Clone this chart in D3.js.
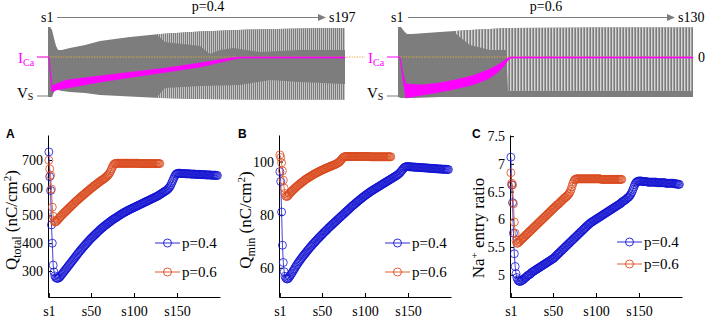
<!DOCTYPE html>
<html><head><meta charset="utf-8">
<script src="https://cdn.jsdelivr.net/npm/d3@7"></script>
<style>
body{margin:0;background:#fff}
svg{display:block}
text{font-family:"Liberation Serif","Times New Roman",serif;fill:#000}
</style>
</head><body>
<svg id="c" width="708" height="320" font-family="Liberation Serif, Times New Roman, serif"></svg>
<script>
// ---------------- DATA ----------------
// Top traces (time as % of run); V in mV-like units, I_Ca normalised
const envT_p04 = [0, 0.7, 1.35, 2.0, 2.7, 3.4, 4.7, 7.4, 12.5, 17.5, 27.6, 37.7, 51.2, 68, 84.8, 100];
const vTop_p04 = [45, 45, 39.7, 25.4, 11.2, 4.0, 4.0, 7.6, 12.9, 20.1, 27.2, 32.5, 37.0, 40.5, 42.3, 43.2];
const vBot_p04 = [-79.7, -79.7, -79.7, -70.8, -67.2, -67.2, -69.0, -70.8, -72.5, -76.1, -78.8, -81.4, -83.2, -84.1, -84.1, -84.1];
const icaT_p04 = [0, 0.34, 1.35, 2.7, 6.4, 17.5, 28.6, 40, 51.2, 61.3, 64.6, 100];
const icaHi_p04 = [0, 0, -0.725, -0.675, -0.575, -0.475, -0.375, -0.275, -0.15, -0.025, 0, 0];
const icaLo_p04 = [0, -0.025, -0.875, -0.825, -0.775, -0.625, -0.5, -0.375, -0.25, -0.075, -0.025, -0.025];
const gapUpT_p04 = [36.0, 39.4, 51.2, 54.5, 57.9, 62.3, 71.4, 84.8, 100];
const gapUpV_p04 = [34.3, 18.3, 11.2, -3.1, 4.0, 7.6, 0.5, 4.0, 4.0];
const gapLoT_p04 = [36.0, 39.4, 51.2, 64.6, 74.7, 84.8, 100];
const gapLoV_p04 = [-83.2, -63.6, -60.1, -58.3, -49.4, -52.9, -56.5];

const envT_p06 = [0, 1.0, 2.0, 3.05, 4.7, 14.2, 24.4, 37.3, 68.5, 100];
const vTop_p06 = [45, 45, 37.9, 32.5, 32.5, 36.1, 39.7, 43.2, 44.1, 44.1];
const vBot_p06 = [-79.7, -81.4, -81.4, -81.4, -81.4, -79.7, -79.7, -79.7, -79.7, -79.7];
const icaT_p06 = [0, 0.68, 1.7, 2.7, 8.1, 14.2, 19.3, 25.1, 30.5, 33.9, 35.9, 37.3, 38.3, 100];
const icaHi_p06 = [0, 0, -0.425, -0.675, -0.7, -0.65, -0.575, -0.475, -0.325, -0.2, -0.1, -0.025, 0, 0];
const icaLo_p06 = [0, -0.025, -0.575, -1.025, -0.95, -0.875, -0.8, -0.7, -0.55, -0.375, -0.225, -0.075, -0.025, -0.025];
const gapUpT_p06 = [19.3, 24.4, 31.2, 36.6, 37.3, 100];
const gapUpV_p06 = [34.3, 12.9, 4.0, 4.0, -69.0, -69.0];

// Bottom panels (per spike s1..)
const qTotalP04 = [
729,640,590,466,400,321,296,282,276,274,
273,274,276,279,283,287,291,295,299,303,
307,311,315,319,323,327,331,335,339,343,
347,351,355,359,363,367,371,375,378,382,
386,389,393,396,400,403,407,410,414,417,
420,423,426,429,432,435,438,441,444,447,
450,452,455,458,460,463,465,468,470,472,
475,477,479,482,484,486,488,490,492,494,
496,498,500,502,504,506,508,510,511,513,
515,516,518,520,521,523,524,526,527,529,
530,532,533,535,536,538,539,541,542,544,
545,547,548,550,551,553,554,556,557,559,
560,562,563,565,566,568,569,571,573,575,
577,579,581,583,585,587,589,591,594,597,
600,605,611,618,625,632,639,645,649,651,
652,652,652,652,651,651,651,651,651,650,
650,650,650,650,650,649,649,649,649,649,
649,648,648,648,648,648,648,647,647,647,
647,647,647,646,646,646,646,646,646,645,
645,645,645,645,645,644,644];
const qTotalP06 = [
699,668,645,595,530,497,481,476,477,480,
483,487,490,494,497,500,504,507,510,513,
516,519,522,525,528,531,534,537,540,543,
546,549,552,555,557,560,563,566,568,571,
574,576,579,582,584,587,589,592,595,597,
600,602,605,607,609,612,614,617,619,621,
624,626,628,630,632,635,637,640,643,646,
650,655,661,668,675,681,685,687,688,688,
688,688,688,688,688,688,688,688,688,688,
688,688,688,688,688,688,688,688,688,688,
688,688,688,688,688,687,687,687,687,687,
687,687,687,687,687,687,687,687,687,687,
687,687,687,687,687,687,687,687,687,687];
const qMinP04 = [
96.2,92.5,81.0,68.5,62.0,58.5,56.8,56.1,55.8,55.8,
56.1,56.5,57.0,57.5,58.0,58.6,59.1,59.6,60.2,60.7,
61.2,61.7,62.2,62.6,63.1,63.5,64.0,64.4,64.8,65.2,
65.6,66.0,66.4,66.8,67.2,67.6,68.0,68.3,68.7,69.1,
69.4,69.8,70.1,70.5,70.8,71.2,71.5,71.8,72.2,72.5,
72.8,73.2,73.5,73.8,74.1,74.4,74.8,75.1,75.4,75.7,
76.0,76.3,76.6,76.9,77.2,77.5,77.8,78.1,78.4,78.7,
79.0,79.3,79.6,79.9,80.2,80.5,80.8,81.1,81.4,81.7,
82.0,82.3,82.6,82.9,83.2,83.5,83.7,84.0,84.3,84.6,
84.8,85.1,85.4,85.6,85.9,86.2,86.4,86.7,86.9,87.2,
87.4,87.6,87.9,88.1,88.3,88.6,88.8,89.0,89.2,89.4,
89.6,89.8,90.0,90.2,90.4,90.6,90.8,91.0,91.2,91.4,
91.6,91.8,92.0,92.2,92.4,92.6,92.8,93.0,93.2,93.4,
93.6,93.8,94.0,94.2,94.4,94.6,94.8,95.0,95.3,95.6,
95.9,96.3,96.7,97.1,97.5,97.8,98.0,98.1,98.1,98.1,
98.1,98.0,98.0,98.0,98.0,97.9,97.9,97.9,97.9,97.8,
97.8,97.8,97.8,97.8,97.7,97.7,97.7,97.7,97.6,97.6,
97.6,97.6,97.5,97.5,97.5,97.5,97.4,97.4,97.4,97.4,
97.3,97.3,97.3,97.3,97.2,97.2,97.2,97.2,97.2,97.1,
97.1,97.1,97.1,97.1,97.1,97.0,97.0];
const qMinP06 = [
102.5,101.5,99.5,96.5,93.0,90.0,88.0,87.0,86.8,87.0,
87.4,87.8,88.2,88.5,88.9,89.2,89.5,89.8,90.1,90.4,
90.7,91.0,91.2,91.5,91.8,92.0,92.3,92.5,92.8,93.0,
93.3,93.5,93.7,93.9,94.1,94.3,94.5,94.7,94.9,95.1,
95.3,95.5,95.6,95.8,96.0,96.1,96.3,96.5,96.6,96.8,
96.9,97.1,97.2,97.4,97.5,97.7,97.8,97.9,98.1,98.2,
98.3,98.5,98.6,98.7,98.9,99.0,99.2,99.4,99.6,99.8,
100.1,100.5,100.9,101.3,101.6,101.8,101.9,101.9,101.9,101.9,
101.9,101.9,101.9,101.9,101.9,101.9,101.9,101.9,101.9,101.9,
101.9,101.9,101.9,101.9,101.9,101.9,101.9,101.9,101.9,101.9,
101.9,101.9,101.9,101.9,101.9,101.8,101.8,101.8,101.8,101.8,
101.8,101.8,101.8,101.8,101.8,101.8,101.8,101.8,101.8,101.8,
101.8,101.8,101.8,101.8,101.8,101.8,101.8,101.8,101.8,101.8];
const naRatioP04 = [
7.12,6.62,6.30,5.75,5.38,5.15,5.02,4.95,4.91,4.89,
4.88,4.88,4.89,4.90,4.91,4.92,4.94,4.95,4.96,4.98,
4.99,5.00,5.01,5.02,5.04,5.05,5.06,5.07,5.08,5.09,
5.10,5.11,5.12,5.13,5.14,5.15,5.16,5.17,5.18,5.19,
5.20,5.21,5.22,5.23,5.24,5.25,5.26,5.27,5.28,5.29,
5.30,5.32,5.33,5.35,5.36,5.38,5.39,5.41,5.42,5.44,
5.45,5.47,5.48,5.50,5.51,5.53,5.54,5.56,5.57,5.59,
5.60,5.62,5.63,5.65,5.66,5.68,5.69,5.71,5.72,5.74,
5.75,5.77,5.78,5.80,5.81,5.83,5.84,5.86,5.87,5.89,
5.90,5.91,5.93,5.94,5.95,5.96,5.97,5.98,5.99,6.00,
6.01,6.02,6.03,6.04,6.05,6.06,6.07,6.08,6.09,6.10,
6.11,6.12,6.13,6.14,6.15,6.16,6.17,6.18,6.19,6.20,
6.21,6.22,6.23,6.24,6.25,6.26,6.27,6.28,6.29,6.31,
6.32,6.33,6.34,6.35,6.36,6.38,6.39,6.40,6.42,6.44,
6.47,6.50,6.54,6.58,6.62,6.65,6.67,6.68,6.69,6.69,
6.69,6.69,6.69,6.68,6.68,6.68,6.68,6.68,6.68,6.67,
6.67,6.67,6.67,6.67,6.67,6.67,6.67,6.67,6.67,6.67,
6.66,6.66,6.66,6.66,6.66,6.66,6.66,6.66,6.66,6.66,
6.65,6.65,6.65,6.65,6.65,6.65,6.65,6.65,6.65,6.65,
6.64,6.64,6.64,6.64,6.63,6.63,6.63];
const naRatioP06 = [
6.84,6.65,6.62,6.28,5.95,5.75,5.62,5.57,5.57,5.59,
5.60,5.62,5.63,5.65,5.66,5.68,5.69,5.71,5.72,5.74,
5.75,5.77,5.78,5.80,5.81,5.83,5.84,5.86,5.87,5.89,
5.90,5.92,5.93,5.95,5.96,5.98,5.99,6.01,6.02,6.04,
6.05,6.07,6.08,6.10,6.11,6.13,6.14,6.16,6.17,6.19,
6.20,6.22,6.23,6.25,6.26,6.27,6.29,6.30,6.32,6.33,
6.35,6.36,6.38,6.39,6.40,6.42,6.43,6.45,6.47,6.50,
6.54,6.59,6.64,6.68,6.71,6.72,6.73,6.73,6.73,6.73,
6.73,6.73,6.73,6.73,6.73,6.73,6.73,6.73,6.73,6.73,
6.73,6.73,6.73,6.73,6.73,6.73,6.73,6.73,6.73,6.73,
6.73,6.73,6.73,6.73,6.73,6.72,6.72,6.72,6.72,6.72,
6.72,6.72,6.72,6.72,6.72,6.72,6.72,6.72,6.72,6.72,
6.72,6.72,6.72,6.72,6.72,6.72,6.72,6.72,6.72,6.72];

const xTickVals = [1, 50, 100, 150];
const xTickLabels = ["s1", "s50", "s100", "s150"];
const yTicksA = [300, 400, 500, 600, 700];
const yTicksB = [60, 80, 100];
const yTicksC = [5, 5.5, 6, 6.5, 7, 7.5];
const seriesNames = ["p=0.4", "p=0.6"];

// ---------------- DRAW ----------------
const SERIF = '"Liberation Serif","Times New Roman",serif';
const GRAY = "#7d7d7d", LIGHT = "#d6d6d6", MAG = "#ff00ff", BLUE = "#1414d2", RED = "#d94a1e", DOT = "#e0a83a";
const svg = d3.select("#c");
const defs = svg.append("defs");

function stripePattern(id, w, lw) {
  const p = defs.append("pattern").attr("id", id).attr("patternUnits", "userSpaceOnUse")
    .attr("width", w).attr("height", 8);
  p.append("rect").attr("width", w).attr("height", 8).attr("fill", GRAY);
  p.append("rect").attr("width", lw).attr("height", 8).attr("fill", LIGHT);
}
stripePattern("stripeL", 2, 0.8);
stripePattern("stripeR", 3, 1.4);

const vY = d3.scaleLinear().domain([-85, 45]).range([100, 27]);
const iY = d3.scaleLinear().domain([-1, 0]).range([97, 57]);

function txt(sel, size) { return sel.style("font-family", SERIF).style("font-size", size + "px"); }

function drawTrace(o) {
  const x = d3.scaleLinear().domain([0, 100]).range(o.xr);
  const env = d3.area().x((d, i) => x(o.envT[i])).y0((d, i) => vY(o.vBot[i])).y1((d, i) => vY(o.vTop[i]));
  defs.append("clipPath").attr("id", o.id + "clip").append("path").attr("d", env(o.envT));
  svg.append("path").attr("d", env(o.envT)).attr("fill", GRAY);
  const g = svg.append("g").attr("clip-path", `url(#${o.id}clip)`);
  if (o.upT) g.append("path")
    .attr("d", d3.area().x((d, i) => x(o.upT[i])).y0(vY(50)).y1((d, i) => vY(o.upV[i]))(o.upT))
    .attr("fill", `url(#${o.pat})`);
  if (o.loT) g.append("path")
    .attr("d", d3.area().x((d, i) => x(o.loT[i])).y0((d, i) => vY(o.loV[i])).y1(vY(-90))(o.loT))
    .attr("fill", `url(#${o.pat})`);
  svg.append("line").attr("x1", o.dot[0]).attr("x2", o.dot[1]).attr("y1", iY(0)).attr("y2", iY(0))
    .attr("stroke", DOT).attr("stroke-width", 1).attr("stroke-dasharray", "1.3,1.3");
  const band = d3.area().x((d, i) => x(o.icaT[i])).y0((d, i) => iY(o.icaLo[i])).y1((d, i) => iY(o.icaHi[i]));
  svg.append("path").attr("d", band(o.icaT)).attr("fill", MAG).attr("stroke", MAG).attr("stroke-width", 0.7);
  const lx = o.xr[0];
  svg.append("line").attr("x1", lx - 11).attr("x2", lx).attr("y1", iY(0)).attr("y2", iY(0)).attr("stroke", MAG).attr("stroke-width", 1);
  svg.append("line").attr("x1", lx - 11).attr("x2", lx).attr("y1", 96).attr("y2", 96).attr("stroke", GRAY).attr("stroke-width", 1);
  const t1 = txt(svg.append("text").attr("x", lx - 30).attr("y", 63), 15).style("fill", MAG);
  t1.append("tspan").text("I").style("fill", MAG);
  t1.append("tspan").text("Ca").attr("dy", 3).style("font-size", "10px").style("fill", MAG);
  const t2 = txt(svg.append("text").attr("x", lx - 31).attr("y", 98), 15);
  t2.append("tspan").text("V");
  t2.append("tspan").text("S").attr("dy", 2).style("font-size", "10px");
  txt(svg.append("text").attr("x", lx - 7).attr("y", 22), 14).text("s1");
  svg.append("line").attr("x1", o.arrow[0]).attr("x2", o.arrow[1] - 7).attr("y1", 17.5).attr("y2", 17.5)
    .attr("stroke", GRAY).attr("stroke-width", 1.1);
  svg.append("path").attr("d", `M${o.arrow[1]},17.5L${o.arrow[1] - 8},14L${o.arrow[1] - 8},21Z`).attr("fill", GRAY);
  txt(svg.append("text").attr("x", o.arrow[1] + 3).attr("y", 22), 14).text(o.lastSpike);
  txt(svg.append("text").attr("x", o.pX).attr("y", 11).attr("text-anchor", "middle"), 14).text(o.pLabel);
}

drawTrace({id: "L", xr: [48, 345], envT: envT_p04, vTop: vTop_p04, vBot: vBot_p04,
  upT: gapUpT_p04, upV: gapUpV_p04, loT: gapLoT_p04, loV: gapLoV_p04, pat: "stripeL",
  icaT: icaT_p04, icaHi: icaHi_p04, icaLo: icaLo_p04, dot: [37, 365], arrow: [57, 326],
  lastSpike: "s197", pX: 208, pLabel: "p=0.4"});
drawTrace({id: "R", xr: [398, 693], envT: envT_p06, vTop: vTop_p06, vBot: vBot_p06,
  upT: gapUpT_p06, upV: gapUpV_p06, pat: "stripeR",
  icaT: icaT_p06, icaHi: icaHi_p06, icaLo: icaLo_p06, dot: [398, 693], arrow: [408, 675],
  lastSpike: "s130", pX: 546, pLabel: "p=0.6"});
txt(svg.append("text").attr("x", 698).attr("y", 62), 14).text("0");

function drawPanel(o) {
  const x = d3.scaleLinear().domain([0, 200]).range([o.x0, o.x0 + 172]);
  const y = d3.scaleLinear().domain(o.yDom).range([297, 135]);
  const g = svg.append("g");
  const xa = g.append("g").attr("transform", "translate(0,297)")
    .call(d3.axisBottom(x).tickValues(xTickVals).tickFormat((d, i) => xTickLabels[i]).tickSizeInner(-4).tickSizeOuter(0).tickPadding(9));
  const ya = g.append("g").attr("transform", `translate(${o.x0},0)`)
    .call(d3.axisLeft(y).tickValues(o.ticks).tickFormat(o.fmt).tickSizeInner(-4).tickSizeOuter(0).tickPadding(5));
  [xa, ya].forEach(a => {
    a.attr("font-family", null).attr("font-size", null);
    a.selectAll("text").style("font-size", "14px").style("font-family", SERIF);
    a.select(".domain").attr("stroke", "#000").attr("stroke-width", 1);
  });
  [[o.blue, BLUE], [o.red, RED]].forEach(([vals, col]) => {
    const line = d3.line().x((d, i) => x(i + 1)).y(d => y(d));
    g.append("path").attr("d", line(vals)).attr("fill", "none").attr("stroke", col).attr("stroke-width", 0.8);
    g.selectAll(null).data(vals).enter().append("circle")
      .attr("cx", (d, i) => x(i + 1)).attr("cy", d => y(d)).attr("r", 4)
      .attr("fill", "none").attr("stroke", col).attr("stroke-width", 0.8);
  });
  seriesNames.forEach((nm, k) => {
    const ly = o.leg[1] + k * o.leg[2];
    const col = k === 0 ? BLUE : RED;
    g.append("line").attr("x1", o.leg[0]).attr("x2", o.leg[0] + 25).attr("y1", ly).attr("y2", ly).attr("stroke", col).attr("stroke-width", 0.9);
    g.append("circle").attr("cx", o.leg[0] + 12.5).attr("cy", ly).attr("r", 4).attr("fill", "none").attr("stroke", col).attr("stroke-width", 0.9);
    txt(g.append("text").attr("x", o.leg[0] + 27).attr("y", ly + 5), 15).text(nm);
  });
  g.append("text").attr("x", o.letterX).attr("y", 138).text(o.letter)
    .style("font-family", '"Liberation Sans",Arial,sans-serif').style("font-weight", "bold").style("font-size", "12px");
  const yt = txt(g.append("text").attr("transform", `translate(${o.titleX},${o.titleY}) rotate(-90)`)
    .attr("text-anchor", "middle"), 17);
  o.title(yt);
}

function qTitle(sub) {
  return t => { t.append("tspan").text("Q"); t.append("tspan").text(sub).attr("dy", 4).style("font-size", "12px");
    t.append("tspan").text(" (nC/cm").attr("dy", -4); t.append("tspan").text("2").attr("dy", -6).style("font-size", "11px");
    t.append("tspan").text(")").attr("dy", 6); };
}
drawPanel({x0: 48, yDom: [206, 790], ticks: yTicksA, fmt: d => d, blue: qTotalP04, red: qTotalP06,
  leg: [155, 243, 29], letter: "A", letterX: 6, titleX: 17, titleY: 220, title: qTitle("total")});
drawPanel({x0: 279, yDom: [49, 110], ticks: yTicksB, fmt: d => d, blue: qMinP04, red: qMinP06,
  leg: [385, 243, 29], letter: "B", letterX: 238, titleX: 251, titleY: 220, title: qTitle("min")});
drawPanel({x0: 510, yDom: [4.6, 7.52], ticks: yTicksC, fmt: d => d, blue: naRatioP04, red: naRatioP06,
  leg: [617, 242, 22], letter: "C", letterX: 472, titleX: 484, titleY: 228,
  title: t => { t.append("tspan").text("Na"); t.append("tspan").text("+").attr("dy", -6).style("font-size", "11px");
    t.append("tspan").text(" entry ratio").attr("dy", 6); }});
</script>
</body></html>
